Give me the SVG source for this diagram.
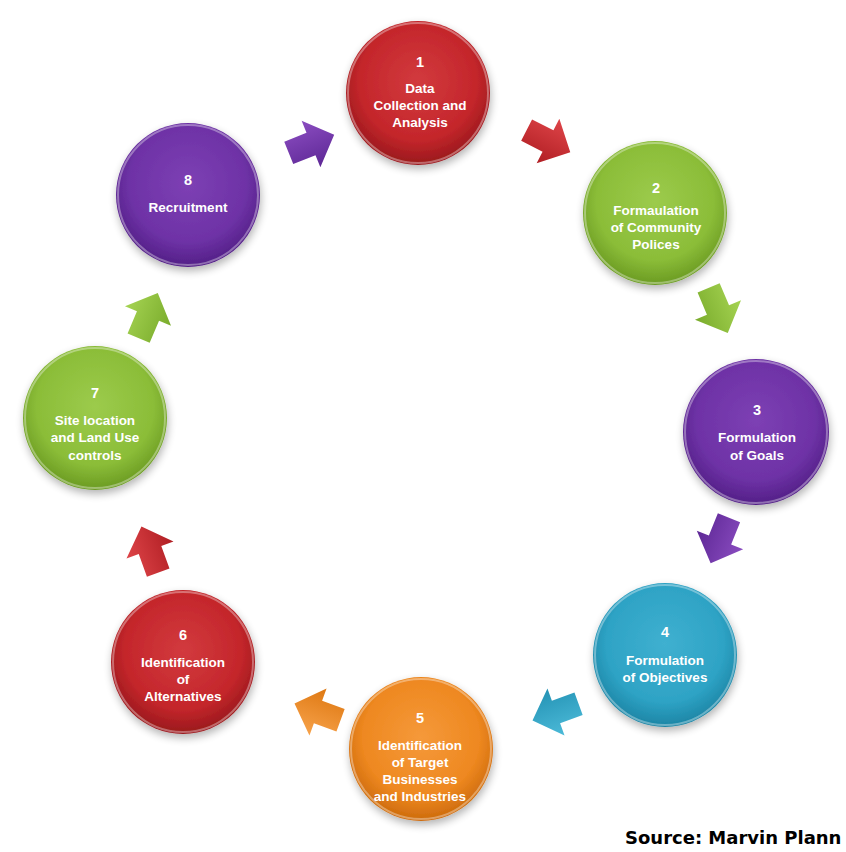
<svg xmlns="http://www.w3.org/2000/svg" width="846" height="852" viewBox="0 0 846 852">
<style>
.t{font-family:"Liberation Sans",Arial,sans-serif;font-weight:bold;font-size:13.5px;fill:#ffffff;text-anchor:middle}
.n{font-size:14.5px}
.src{font-family:"DejaVu Sans",Verdana,sans-serif;font-weight:bold;font-size:18px;fill:#000000}
.rim{fill:none;stroke:#ffffff;stroke-opacity:0.35;stroke-width:2}
</style>
<defs>
<filter id="sh" x="-30%" y="-30%" width="160%" height="160%">
<feGaussianBlur in="SourceAlpha" stdDeviation="4"/>
<feOffset dx="1" dy="4" result="b"/>
<feComponentTransfer><feFuncA type="linear" slope="0.3"/></feComponentTransfer>
<feMerge><feMergeNode/><feMergeNode in="SourceGraphic"/></feMerge>
</filter>
<radialGradient id="gRed" cx="50%" cy="42%" r="58%"><stop offset="0" stop-color="#d23a3e"/><stop offset="0.7" stop-color="#c4262b"/><stop offset="1" stop-color="#98181c"/></radialGradient>
<radialGradient id="gGreen" cx="50%" cy="42%" r="58%"><stop offset="0" stop-color="#9ccb4c"/><stop offset="0.7" stop-color="#8bbd38"/><stop offset="1" stop-color="#6a9a22"/></radialGradient>
<radialGradient id="gPurple" cx="50%" cy="42%" r="58%"><stop offset="0" stop-color="#7d40b4"/><stop offset="0.7" stop-color="#6e32a6"/><stop offset="1" stop-color="#521f86"/></radialGradient>
<radialGradient id="gBlue" cx="50%" cy="42%" r="58%"><stop offset="0" stop-color="#3fb0d0"/><stop offset="0.7" stop-color="#2ea3c5"/><stop offset="1" stop-color="#1c84a4"/></radialGradient>
<radialGradient id="gOrange" cx="50%" cy="42%" r="58%"><stop offset="0" stop-color="#f5993a"/><stop offset="0.7" stop-color="#ee8820"/><stop offset="1" stop-color="#cc6a0c"/></radialGradient>
<linearGradient id="aRed" x1="0" y1="0" x2="0" y2="1"><stop offset="0" stop-color="#de4448"/><stop offset="1" stop-color="#b01e23"/></linearGradient>
<linearGradient id="aGreen" x1="0" y1="0" x2="0" y2="1"><stop offset="0" stop-color="#a5d352"/><stop offset="1" stop-color="#7aac2c"/></linearGradient>
<linearGradient id="aPurple" x1="0" y1="0" x2="0" y2="1"><stop offset="0" stop-color="#8a4cc0"/><stop offset="1" stop-color="#5e2896"/></linearGradient>
<linearGradient id="aBlue" x1="0" y1="0" x2="0" y2="1"><stop offset="0" stop-color="#4cbad8"/><stop offset="1" stop-color="#2493b5"/></linearGradient>
<linearGradient id="aOrange" x1="0" y1="0" x2="0" y2="1"><stop offset="0" stop-color="#f7a24a"/><stop offset="1" stop-color="#de7812"/></linearGradient>
<polygon id="arr" points="-24,-12 0,-12 0,-25 25,0 0,25 0,12 -24,12"/>
</defs>
<rect width="846" height="852" fill="#ffffff"/>

<g id="connectors">
<use href="#arr" fill="url(#aPurple)" transform="translate(311,144) rotate(-22)"/>
<use href="#arr" fill="url(#aRed)" transform="translate(548,141) rotate(27)"/>
<use href="#arr" fill="url(#aGreen)" transform="translate(718,310) rotate(67)"/>
<use href="#arr" fill="url(#aPurple)" transform="translate(720,540) rotate(112)"/>
<use href="#arr" fill="url(#aBlue)" transform="translate(556,712) rotate(160)"/>
<use href="#arr" fill="url(#aOrange)" transform="translate(318,712) rotate(200)"/>
<use href="#arr" fill="url(#aRed)" transform="translate(150,550) rotate(250)"/>
<use href="#arr" fill="url(#aGreen)" transform="translate(148,316) rotate(293)"/>
</g>

<g id="node1">
<circle cx="418" cy="93" r="72" fill="url(#gRed)" filter="url(#sh)"/>
<circle cx="418" cy="93" r="70" class="rim"/>
<text class="t n" x="420" y="67">1</text>
<text class="t" x="420" y="93">Data</text>
<text class="t" x="420" y="110">Collection and</text>
<text class="t" x="420" y="127">Analysis</text>
</g>

<g id="node2">
<circle cx="655" cy="213" r="72" fill="url(#gGreen)" filter="url(#sh)"/>
<circle cx="655" cy="213" r="70" class="rim"/>
<text class="t n" x="656" y="193">2</text>
<text class="t" x="656" y="215">Formaulation</text>
<text class="t" x="656" y="232">of Community</text>
<text class="t" x="656" y="249">Polices</text>
</g>

<g id="node3">
<circle cx="756" cy="432" r="73" fill="url(#gPurple)" filter="url(#sh)"/>
<circle cx="756" cy="432" r="71" class="rim"/>
<text class="t n" x="757" y="415">3</text>
<text class="t" x="757" y="442">Formulation</text>
<text class="t" x="757" y="460">of Goals</text>
</g>

<g id="node4">
<circle cx="665" cy="655" r="72" fill="url(#gBlue)" filter="url(#sh)"/>
<circle cx="665" cy="655" r="70" class="rim"/>
<text class="t n" x="665" y="637">4</text>
<text class="t" x="665" y="665">Formulation</text>
<text class="t" x="665" y="682">of Objectives</text>
</g>

<g id="node5">
<circle cx="421" cy="749" r="72" fill="url(#gOrange)" filter="url(#sh)"/>
<circle cx="421" cy="749" r="70" class="rim"/>
<text class="t n" x="420" y="723">5</text>
<text class="t" x="420" y="750">Identification</text>
<text class="t" x="420" y="767">of Target</text>
<text class="t" x="420" y="784">Businesses</text>
<text class="t" x="420" y="801">and Industries</text>
</g>

<g id="node6">
<circle cx="183" cy="662" r="72" fill="url(#gRed)" filter="url(#sh)"/>
<circle cx="183" cy="662" r="70" class="rim"/>
<text class="t n" x="183" y="640">6</text>
<text class="t" x="183" y="667">Identification</text>
<text class="t" x="183" y="684">of</text>
<text class="t" x="183" y="701">Alternatives</text>
</g>

<g id="node7">
<circle cx="95" cy="418" r="72" fill="url(#gGreen)" filter="url(#sh)"/>
<circle cx="95" cy="418" r="70" class="rim"/>
<text class="t n" x="95" y="398">7</text>
<text class="t" x="95" y="425">Site location</text>
<text class="t" x="95" y="442">and Land Use</text>
<text class="t" x="95" y="460">controls</text>
</g>

<g id="node8">
<circle cx="188" cy="195" r="72" fill="url(#gPurple)" filter="url(#sh)"/>
<circle cx="188" cy="195" r="70" class="rim"/>
<text class="t n" x="188" y="185">8</text>
<text class="t" x="188" y="212">Recruitment</text>
</g>

<text class="src" x="625" y="844">Source: Marvin Plann</text>
</svg>
